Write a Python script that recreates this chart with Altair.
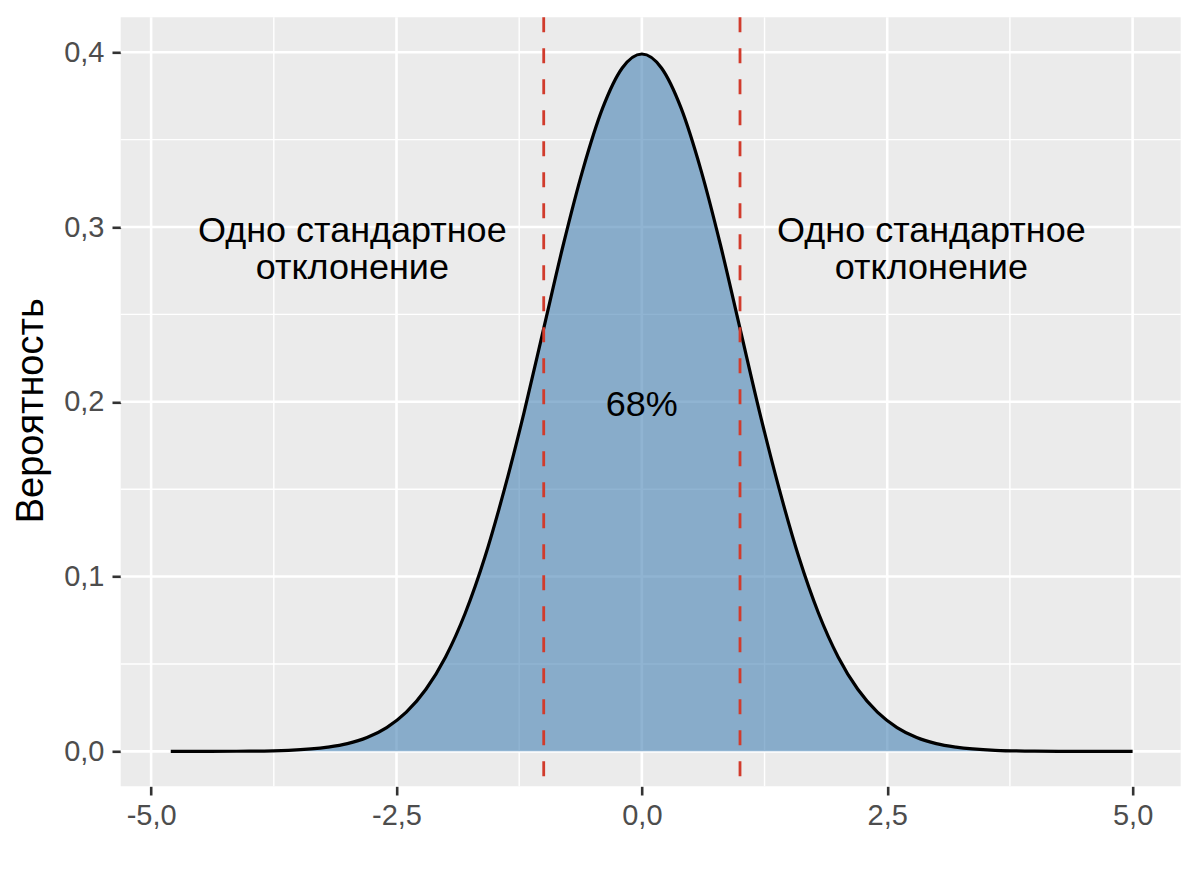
import altair as alt
import pandas as pd

# Density curve
xs = [-4.8, -4.4, -4.0, -3.6, -3.2, -3.0, -2.8, -2.6, -2.4, -2.2, -2.0, -1.8, -1.6, -1.4,
      -1.2, -1.0, -0.8, -0.6, -0.4, -0.2, 0.0, 0.2, 0.4, 0.6, 0.8, 1.0, 1.2, 1.4, 1.6, 1.8,
      2.0, 2.2, 2.4, 2.6, 2.8, 3.0, 3.2, 3.6, 4.0, 4.4, 4.8, 5.0]
ys = [0.000, 0.000, 0.0001, 0.0006, 0.0024, 0.0044, 0.0079, 0.0136, 0.0224, 0.0355, 0.054,
      0.079, 0.111, 0.150, 0.194, 0.242, 0.290, 0.333, 0.368, 0.391, 0.399, 0.391, 0.368,
      0.333, 0.290, 0.242, 0.194, 0.150, 0.111, 0.079, 0.054, 0.0355, 0.0224, 0.0136,
      0.0079, 0.0044, 0.0024, 0.0006, 0.0001, 0.000, 0.000, 0.000]

sd_lines = [-1, 1]
x_major = [-5, -2.5, 0, 2.5, 5]
x_minor = [-3.75, -1.25, 1.25, 3.75]
y_major = [0.0, 0.1, 0.2, 0.3, 0.4]
y_minor = [0.05, 0.15, 0.25, 0.35]

ann_x = [-2.95, 2.95, 0.0]
ann_y = [0.298, 0.298, 0.198]
ann_text = ["Одно стандартное\nотклонение", "Одно стандартное\nотклонение", "68%"]

FONT = "Liberation Sans"
W, H = 1060, 769

dens = pd.DataFrame({"x": xs, "y": ys})
xscale = alt.Scale(domain=[-5.31, 5.49], nice=False, zero=False)
yscale = alt.Scale(domain=[-0.02, 0.42], nice=False, zero=False)

lab_expr = "replace(replace(format(datum.value, '.1f'), '.', ','), '\u2212', '-')"

xaxis = alt.Axis(values=x_major, labelExpr=lab_expr, grid=False, domain=False,
                 tickColor="#333333", tickWidth=2.6, tickSize=8.7,
                 labelColor="#4D4D4D", labelFontSize=29, labelFont=FONT,
                 labelPadding=7, title=None, labelFlush=False)
yaxis = alt.Axis(values=y_major, labelExpr=lab_expr, grid=False, domain=False,
                 tickColor="#333333", tickWidth=2.6, tickSize=8.7,
                 labelColor="#4D4D4D", labelFontSize=29, labelFont=FONT,
                 labelPadding=8, title="Вероятность", titleFont=FONT,
                 titleFontSize=38, titleFontWeight="normal", titleColor="black",
                 titleAngle=270, titleAlign="center", titleBaseline="middle",
                 titleX=-89, titleY=393, labelFlush=False)

gx_major = alt.Chart(pd.DataFrame({"x": x_major})).mark_rule(color="white", strokeWidth=2.6).encode(
    x=alt.X("x:Q", scale=xscale, axis=xaxis))
gx_minor = alt.Chart(pd.DataFrame({"x": x_minor})).mark_rule(color="white", strokeWidth=1.4).encode(
    x=alt.X("x:Q", scale=xscale))
gy_major = alt.Chart(pd.DataFrame({"y": y_major})).mark_rule(color="white", strokeWidth=2.6).encode(
    y=alt.Y("y:Q", scale=yscale, axis=yaxis))
gy_minor = alt.Chart(pd.DataFrame({"y": y_minor})).mark_rule(color="white", strokeWidth=1.4).encode(
    y=alt.Y("y:Q", scale=yscale))

area = alt.Chart(dens).mark_area(color="#4682B4", opacity=0.6, interpolate="monotone").encode(
    x=alt.X("x:Q", scale=xscale), y=alt.Y("y:Q", scale=yscale))
line = alt.Chart(dens).mark_line(color="black", strokeWidth=3.2, interpolate="monotone").encode(
    x=alt.X("x:Q", scale=xscale), y=alt.Y("y:Q", scale=yscale))

vlines = alt.Chart(pd.DataFrame({"x": sd_lines})).mark_rule(
    color="#D13B2C", strokeWidth=2.8, strokeDash=[15, 16]).encode(x=alt.X("x:Q", scale=xscale))

texts = alt.Chart(pd.DataFrame({"x": ann_x, "y": ann_y, "t": ann_text})).mark_text(
    font=FONT, fontSize=36, color="black", align="center", baseline="middle",
    lineBreak="\n", lineHeight=37).encode(
    x=alt.X("x:Q", scale=xscale), y=alt.Y("y:Q", scale=yscale), text="t:N")

chart = alt.layer(gy_minor, gx_minor, gy_major, gx_major, area, line, vlines, texts).properties(
    width=W, height=H,
    padding={"left": 112.7, "top": 9.3, "right": 8, "bottom": 80},
    autosize=alt.AutoSizeParams(type="none"),
    background="white",
).configure_view(fill="#EBEBEB", stroke=None)

chart.save("out.html", embed_options={"renderer": "svg", "actions": False})
